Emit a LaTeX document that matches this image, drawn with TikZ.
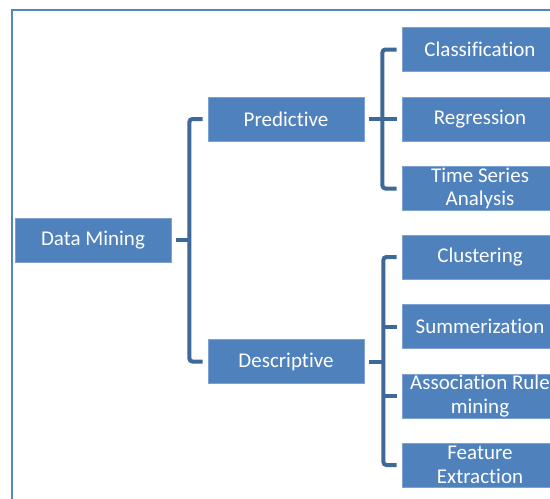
\documentclass[tikz,border=0pt]{standalone}
\usepackage{fontspec}
\setmainfont[Ligatures=NoCommon]{Carlito}
\usetikzlibrary{calc}
\definecolor{boxfill}{RGB}{79,129,189}
\definecolor{boxedge}{RGB}{125,162,208}
\definecolor{linkcol}{RGB}{62,104,152}
\definecolor{framecol}{RGB}{84,134,194}
\begin{document}
\begin{tikzpicture}[x=1pt,y=-1pt,
  box/.style={draw=boxedge, line width=0.8pt, fill=boxfill, text=white,
    minimum width=156pt, minimum height=44pt, inner sep=0pt,
    align=center, font=\fontsize{21}{23.5}\selectfont},
  conn/.style={draw=linkcol, line width=4pt, rounded corners=3pt}]
\useasboundingbox (0,0) rectangle (550,499);
\clip (0,0) rectangle (550,499);
% outer frame
\draw[framecol, line width=2pt] (12,10) rectangle (600,560);
% nodes
\node[box] (dm) at (93,240) {Data Mining};
\node[box] (pred) at (286,119) {Predictive};
\node[box] (desc) at (286,361.5) {Descriptive};
\node[box] (cls) at (480,49.5) {Classification};
\node[box] (reg) at (480,119) {Regression};
\node[box] (ts) at (480,188.5) {Time Series\\Analysis};
\node[box] (clu) at (480,257) {Clustering};
\node[box] (sum) at (480,326.5) {Summerization};
\node[box] (asr) at (480,396) {Association Rule\\mining};
\node[box] (fe) at (480,465) {Feature\\Extraction};
% junction points of the brackets
\coordinate (j1) at ($(dm.east)+(18,0)$);
\coordinate (j2) at ($(pred.east)+(18,0)$);
\coordinate (j3) at ($(desc.east)+(19,0)$);
% Data Mining bracket
\draw[conn] ([xshift=5pt]dm.east) -- (j1);
\draw[conn] ([xshift=-5pt]pred.west) -| (j1) |- ([xshift=-5pt]desc.west);
% Predictive bracket
\draw[conn] ([xshift=5pt]pred.east) -- (j2);
\draw[conn] ([xshift=-5pt]cls.west) -| (j2) |- ([xshift=-5pt]ts.west);
\draw[conn] ([xshift=-5pt]reg.west) -- (reg.west -| j2);
% Descriptive bracket
\draw[conn] ([xshift=5pt]desc.east) -- (j3);
\draw[conn] ([xshift=-5pt]clu.west) -| (j3) |- ([xshift=-5pt]fe.west);
\draw[conn] ([xshift=-5pt]sum.west) -- (sum.west -| j3);
\draw[conn] ([xshift=-5pt]asr.west) -- (asr.west -| j3);
\end{tikzpicture}
\end{document}
